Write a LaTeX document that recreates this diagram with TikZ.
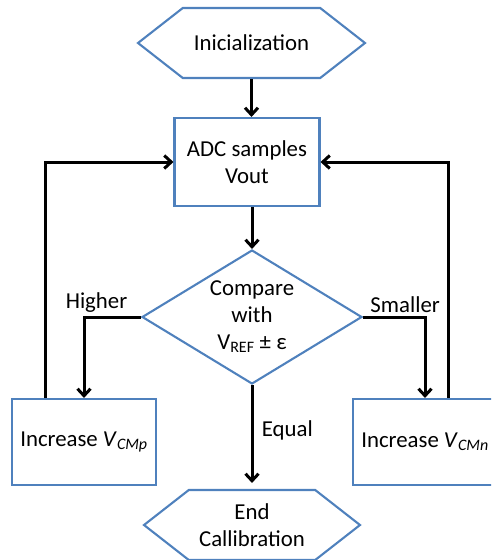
\documentclass[tikz,border=0pt]{standalone}
\usepackage{fontspec}
\setmainfont{Carlito}
\usetikzlibrary{arrows.meta, positioning, calc, shapes.geometric, shapes.symbols}
\definecolor{boxline}{HTML}{4F81BD}
\tikzset{
  hexbox/.style={draw=boxline, line width=2.1pt, shape=signal,
    signal to=west and east, signal pointer angle=76,
    minimum height=70pt, align=center, inner sep=2pt},
  stepbox/.style={draw=boxline, line width=2.1pt, rectangle,
    align=center},
  testbox/.style={draw=boxline, line width=2.1pt, diamond, aspect=1.64,
    minimum width=220pt, minimum height=134pt, inner sep=0pt, align=center},
  flow/.style={line width=3pt, -{Straight Barb[length=7pt,width=13pt]}},
}

\begin{document}
\begin{tikzpicture}[x=1pt, y=-1pt,
    font=\fontsize{22.8}{27}\selectfont]
  \useasboundingbox (0,0) rectangle (491,560);
  \clip (0,0) rectangle (491,560);

  \node[hexbox, minimum width=227pt] (init) at (251.5,43) {Inicialization};
  \node[stepbox, minimum width=145pt, minimum height=88pt] (adc) at (247,162)
    {ADC samples\\Vout};
  \node[testbox] (cmp) at (252,317)
    {Compare\\with\\V\textsubscript{REF} ± ε};
  \node[stepbox, minimum width=144pt, minimum height=86pt] (incp) at (84,442)
    {Increase \textit{V}\textsubscript{\textit{CMp}}};
  \node[stepbox, minimum width=144pt, minimum height=86pt] (incn) at (425,442)
    {Increase \textit{V}\textsubscript{\textit{CMn}}};
  \node[hexbox, minimum width=216pt] (endc) at (252,525)
    {End\\Callibration};

  % main path
  \draw[flow] (init.south) -- (init.south |- adc.north);
  \draw[flow] (adc.south -| cmp.north) -- (cmp.north);
  \draw[flow] (cmp.west) -| node[above, pos=0.39] (hi) {Higher} (incp.north);
  \draw[flow] (cmp.east) -| node[above, pos=0.34] (lo) {Smaller} (incn.north);
  \draw[flow, shorten >=6pt] (cmp.south) -- node[right, pos=0.44, xshift=5pt] (eq) {Equal}
    (endc.north);

  % feedback loops
  \draw[flow] ([xshift=-39pt]incp.north) |- (adc.west);
  \draw[flow] ([xshift=23pt]incn.north) |- (adc.east);
\end{tikzpicture}
\end{document}
